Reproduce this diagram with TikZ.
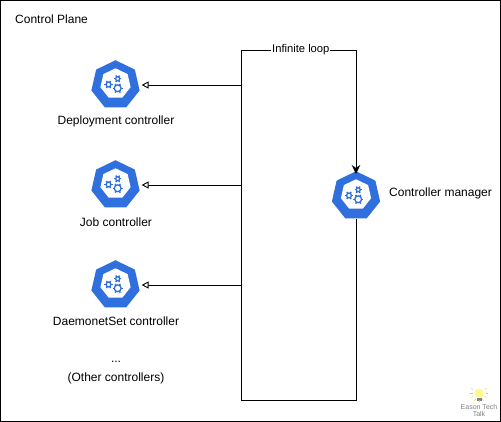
\documentclass[tikz,border=0pt]{standalone}
\usepackage{fontspec}
\setmainfont{Liberation Sans}
\usetikzlibrary{arrows.meta,positioning,shapes.geometric}

\definecolor{kubeblue}{HTML}{2F6FDE}
\definecolor{logogray}{HTML}{808080}

\begin{document}
\begin{tikzpicture}[
  x=1pt, y=-1pt,
  font=\fontsize{12}{14}\selectfont,
  node distance=3pt,
  gear/.pic={
    \draw[kubeblue, line width=1.3pt] (0,0) circle (#1);
    \foreach \a in {0,60,...,300}
      \draw[kubeblue, line width=1.4pt] (\a:#1) -- (\a:#1+1.7pt);
  },
  kube/.style={
    regular polygon, regular polygon sides=7, minimum size=49.5pt, inner sep=0pt,
    fill=kubeblue,
    path picture={
      \node[regular polygon, regular polygon sides=7, minimum size=31pt, fill=white, inner sep=0pt]
        at (path picture bounding box.center) {};
      \path (path picture bounding box.center) ++(-7,0.7) pic {gear=2.4pt};
      \path (path picture bounding box.center) ++(2.2,-5) pic {gear=2pt};
      \path (path picture bounding box.center) ++(2.2,4.5) pic {gear=3.4pt};
    }},
  caption/.style={inner sep=0pt, align=center},
  call/.style={-{Triangle[open,fill=white,length=7pt,width=7pt]}, shorten >=3pt, line width=0.9pt},
  loopline/.style={line width=0.9pt}
]

\draw[line width=1pt] (0.5,0.5) rectangle (500.5,421);
\useasboundingbox (0,0) rectangle (501,422);

\node[caption, anchor=west] (plane) at (15,19) {Control Plane};

\node[kube] (deploy) at (115.5,85) {};
\node[kube] (job) at (115.5,185) {};
\node[kube] (daemon) at (115.5,285) {};
\node[kube] (manager) at (356,196) {};

\node[caption] (deploylabel) at (116,121) {Deployment controller};
\node[caption] (joblabel) at (116,222) {Job controller};
\node[caption] (daemonlabel) at (116,321) {DaemonetSet controller};
\node[caption] (dots) at (116,362) {...};
\node[caption] (others) at (116,378) {(Other controllers)};
\node[caption, anchor=west] (managerlabel) at (389,193) {Controller manager};

\coordinate (looptop) at (241,50);
\coordinate (loopbottom) at (241,400);

% loop
\draw[loopline, -{Stealth[length=9pt,width=8.5pt]}] (manager.south) -- (manager.south |- loopbottom)
  -- (loopbottom) -- (looptop)
  -- node[fill=white, inner sep=1pt, pos=0.52, font=\fontsize{11.2}{14}\selectfont] (looplabel) {Infinite loop} (manager.north |- looptop)
  -- ([yshift=-3pt]manager.north);

\draw[call] (deploy -| looptop) -- (deploy);
\draw[call] (job -| looptop) -- (job);
\draw[call] (daemon -| looptop) -- (daemon);

% logo
\node[circle, fill=yellow!45, minimum size=9pt, inner sep=0pt] (bulb) at (479,393) {};
\fill[logogray] (476.5,398) rectangle (481.5,401);
\foreach \a in {150,180,...,390}
  \draw[yellow!60!orange, line width=0.4pt] (bulb) ++(\a:6.5pt) -- ++(\a:2.5pt);
\node[caption, below=7pt of bulb, text=logogray, font=\fontsize{7}{6.5}\selectfont] (logo) {Eason Tech\\Talk};

\end{tikzpicture}
\end{document}
